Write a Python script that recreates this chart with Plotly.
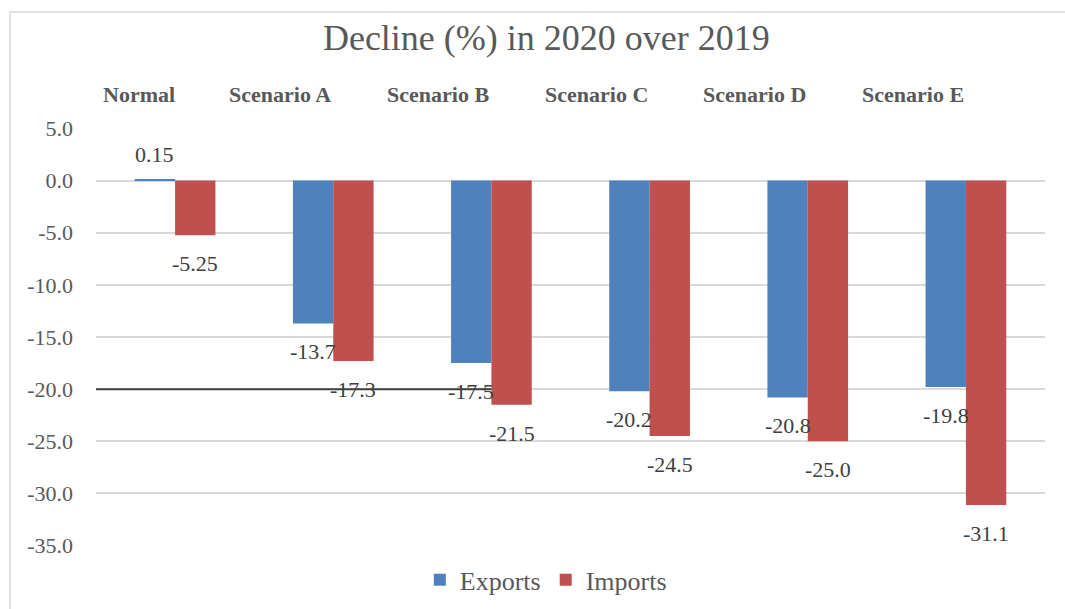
import plotly.graph_objects as go

categories = ["Normal", "Scenario A", "Scenario B", "Scenario C", "Scenario D", "Scenario E"]
exports = [0.15, -13.7, -17.5, -20.2, -20.8, -19.8]
imports = [-5.25, -17.3, -21.5, -24.5, -25.0, -31.1]
export_labels = ["0.15", "-13.7", "-17.5", "-20.2", "-20.8", "-19.8"]
import_labels = ["-5.25", "-17.3", "-21.5", "-24.5", "-25.0", "-31.1"]
y_ticks = [5, 0, -5, -10, -15, -20, -25, -30, -35]
y_tick_text = ["5.0", "0.0", "-5.0", "-10.0", "-15.0", "-20.0", "-25.0", "-30.0", "-35.0"]
title_text = "Decline (%) in 2020 over 2019"

FONT = "Liberation Serif, Times New Roman, serif"
BLUE = "#4F81BD"
RED = "#C0504D"
GRAY = "#595959"
w = 0.255
xs = list(range(len(categories)))

fig = go.Figure()
fig.add_trace(go.Bar(x=xs, y=exports, name="Exports", marker_color=BLUE,
                     width=w, offset=-w, marker_line_width=0))
fig.add_trace(go.Bar(x=xs, y=imports, name="Imports", marker_color=RED,
                     width=w, offset=0, marker_line_width=0))

annotations = []
for i, (lab_e, v_e, lab_i, v_i) in enumerate(zip(export_labels, exports, import_labels, imports)):
    for x, v, lab in ((i - w / 2, v_e, lab_e), (i + w / 2, v_i, lab_i)):
        if v >= 0:
            annotations.append(dict(x=x, y=v, text=lab, showarrow=False, yanchor="bottom",
                                    yshift=10, font=dict(family=FONT, size=22, color="#404040")))
        else:
            annotations.append(dict(x=x, y=v, text=lab, showarrow=False, yanchor="top",
                                    yshift=-14, font=dict(family=FONT, size=22, color="#404040")))

for i, c in enumerate(categories):
    off = -0.23 if i == 0 else -0.335
    annotations.append(dict(x=i + off, y=1.081, yref="paper", text="<b>%s</b>" % c,
                            showarrow=False, xanchor="center", yanchor="middle",
                            font=dict(family=FONT, size=22, color=GRAY)))

shapes = [
    dict(type="rect", xref="paper", yref="paper", x0=-0.0906, x1=1.2, y0=-0.4, y1=1.2775,
         line=dict(color="#D9D9D9", width=1.5), fillcolor="rgba(0,0,0,0)", layer="below"),
    dict(type="line", xref="x", yref="y", x0=-0.5, x1=2.0, y0=-20, y1=-20,
         line=dict(color="#404040", width=2), layer="above"),
]

fig.update_layout(
    width=1065, height=609,
    margin=dict(l=96, r=20, t=128, b=63, autoexpand=False),
    paper_bgcolor="white", plot_bgcolor="white",
    barmode="overlay",
    title=dict(text=title_text, x=0.513, xref="container", xanchor="center",
               y=0.939, yanchor="middle", font=dict(family=FONT, size=36, color=GRAY)),
    xaxis=dict(range=[-0.5, 5.5], showticklabels=False, showgrid=False, zeroline=False,
               showline=False, ticks="", automargin=False),
    yaxis=dict(range=[-35.04, 5.04], tickvals=y_ticks, ticktext=y_tick_text, showgrid=True,
               gridcolor="#D9D9D9", gridwidth=1.5, zeroline=False, showline=False,
               ticklabelstandoff=22, automargin=False,
               tickfont=dict(family=FONT, size=22, color=GRAY)),
    legend=dict(orientation="h", x=0.474, xanchor="center", y=-0.081, yanchor="middle",
                font=dict(family=FONT, size=26, color=GRAY), bgcolor="rgba(0,0,0,0)",
                traceorder="normal"),
    annotations=annotations,
    shapes=shapes,
)

post = (
    "document.documentElement.style.margin='0';"
    "document.documentElement.style.overflow='hidden';"
    "document.documentElement.style.height='609px';"
    "document.body.style.margin='0';"
    "document.body.style.overflow='hidden';"
    "document.body.style.height='609px';"
)
fig.write_html("out.html", config={"displayModeBar": False}, post_script=post)
